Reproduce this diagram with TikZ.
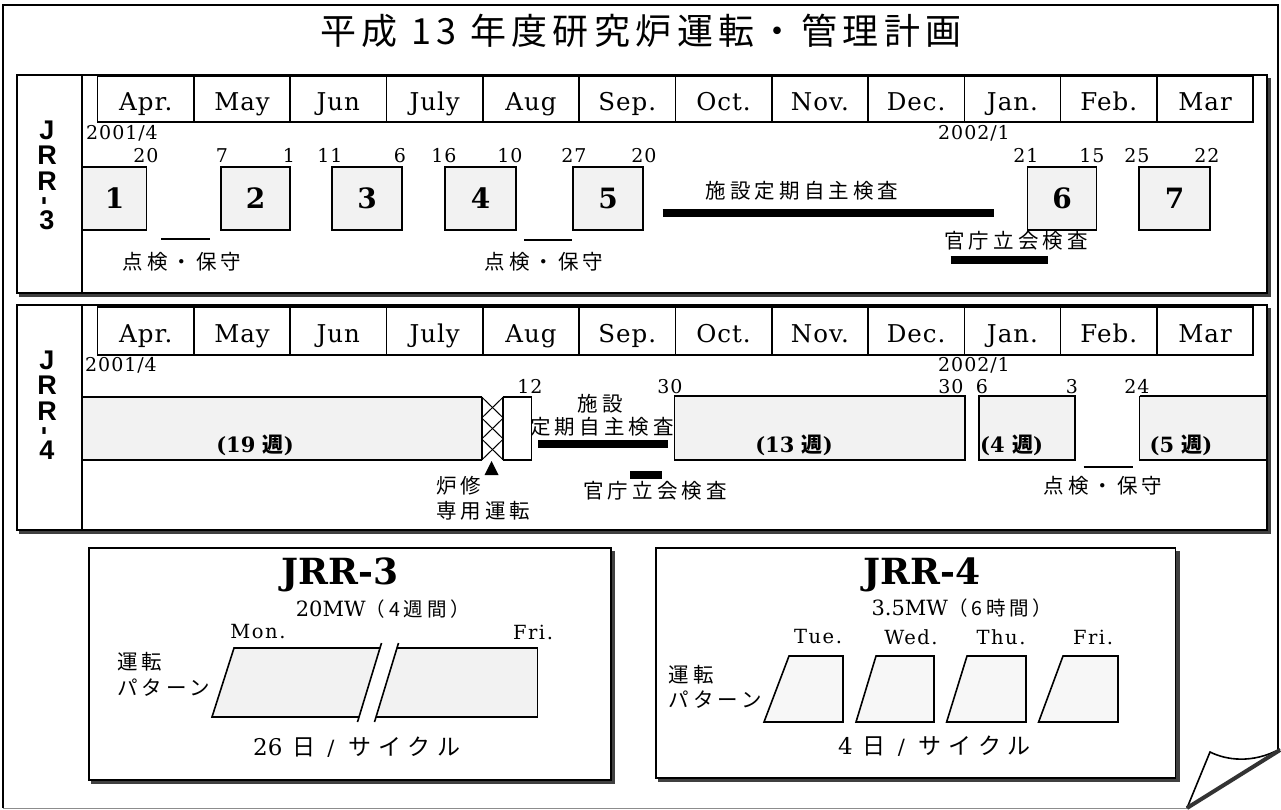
\documentclass[tikz,border=0pt]{standalone}
\usepackage{fontspec}
\setmainfont{DejaVu Serif}
\newfontfamily\jp{Noto Sans CJK JP}[LetterSpace=20]
\newfontfamily\jpt{Noto Sans CJK JP}[LetterSpace=15]
\newfontfamily\jpw{Noto Sans CJK JP}[LetterSpace=30]
\newfontfamily\hv{Liberation Sans}
\begin{document}
\begin{tikzpicture}[x=1pt,y=-1pt]
\tikzset{
  fr/.style={draw=black,line width=1.6pt},
  shd/.style={draw=black!75,line width=3.5pt},
  mon/.style={font=\fontsize{24.5}{24.5}\selectfont\addfontfeature{LetterSpace=4},anchor=base,inner sep=0pt},
  dnum/.style={font=\fontsize{19}{19}\selectfont\addfontfeature{LetterSpace=5},anchor=base,inner sep=0pt},
  cyc/.style={draw=black,line width=1.5pt,fill=black!5,inner sep=0pt,font=\bfseries\fontsize{28}{28}\selectfont},
  lab/.style={font=\jp\fontsize{20.5}{20.5}\selectfont,inner sep=0pt},
  rlab/.style={font=\hv\bfseries\fontsize{27}{27}\selectfont,inner sep=0pt},
  bar/.style={line width=8pt},
  mline/.style={line width=1.3pt},
  run/.style={draw=black,line width=1.5pt,fill=black!5},
  wk/.style={font=\bfseries\fontsize{21}{21}\selectfont,inner sep=0pt},
  big/.style={font=\bfseries\fontsize{36}{36}\selectfont,inner sep=0pt},
  mw/.style={font=\fontsize{21}{21}\selectfont,inner sep=0pt},
  dayw/.style={font=\fontsize{19.5}{19.5}\selectfont\addfontfeature{LetterSpace=8},inner sep=0pt},
}
\useasboundingbox (0,0) rectangle (1281,809);
\fill[white] (0,0) rectangle (1281,809);

% outer frame and page curl
\draw[fr] (3,808) -- (3,5) -- (1278,5) -- (1278,750);
\draw[draw=black!45,line width=1pt] (3,808) -- (1187,808);
\draw[line width=1.6pt] (1280,749) .. controls (1252,764) and (1226,760) .. (1210,752) -- (1187,808);
\draw[line width=4pt,draw=black!80] (1280,750) -- (1187,808);

% title
\node[font=\jpt\fontsize{36}{36}\selectfont] (title) at (641,31) {平成 13 年度研究炉運転・管理計画};

% ---------------- JRR-3 panel ----------------
\draw[shd] (19,295.5) -- (1269.5,295.5) -- (1269.5,78);
\draw[fr] (17,75) rectangle (1267,293);
\draw[fr] (82,75) -- (82,293);
\draw[fr] (97.6,76) rectangle (1253.2,122);
% ---------------- JRR-4 panel ----------------
\draw[shd] (19,532.5) -- (1269.5,532.5) -- (1269.5,308);
\draw[fr] (17,305) rectangle (1267,530);
\draw[fr] (82,305) -- (82,530);
\draw[fr] (97.6,307) rectangle (1253.2,355);
\foreach \i in {1,...,11}{
  \draw[fr] ({97.6+96.3*\i},76) -- ({97.6+96.3*\i},122);
  \draw[fr] ({97.6+96.3*\i},307) -- ({97.6+96.3*\i},355);
}
\foreach \m [count=\i from 0] in {Apr.,May,Jun,July,Aug,Sep.,Oct.,Nov.,Dec.,Jan.,Feb.,Mar}{
  \node[mon] (ma\i) at ({97.6+96.3*(\i+0.5)},110) {\m};
  \node[mon] (mb\i) at ({97.6+96.3*(\i+0.5)},342) {\m};
}

% reactor labels
\node[rlab] (a1) at (47,130) {J};
\node[rlab] (a2) at (47,155) {R};
\node[rlab] (a3) at (47,181) {R};
\node[rlab,rotate=90] (a4) at (47,201) {-};
\node[rlab] (a5) at (47,220) {3};
\node[rlab] (b1) at (47,360) {J};
\node[rlab] (b2) at (47,385) {R};
\node[rlab] (b3) at (47,411) {R};
\node[rlab,rotate=90] (b4) at (47,431) {-};
\node[rlab] (b5) at (47,450) {4};

% JRR-3 content
\node[dnum,anchor=base west] (y31) at (86,139) {2001/4};
\node[dnum] (y32) at (974,139) {2002/1};
\foreach \t/\x [count=\k] in {20/146,7/222,1/289,11/330,6/400,16/444,10/510,27/574,20/644,21/1026,15/1092,25/1137,22/1207}{
  \node[dnum] (d3\k) at (\x,162) {\t};
}
\node[cyc,minimum width=64pt,minimum height=63pt] (c1) at (114.7,198.5) {1};
\node[cyc,minimum width=69pt,minimum height=63pt] (c2) at (255.5,198.5) {2};
\node[cyc,minimum width=70pt,minimum height=63pt] (c3) at (367,198.5) {3};
\node[cyc,minimum width=71pt,minimum height=63pt] (c4) at (480.5,198.5) {4};
\node[cyc,minimum width=70pt,minimum height=63pt] (c5) at (608,198.5) {5};
\node[cyc,minimum width=69pt,minimum height=63pt] (c6) at (1062,198.5) {6};
\node[cyc,minimum width=71pt,minimum height=63pt] (c7) at (1174.5,198.5) {7};
\draw[mline] (161,239) -- (210,239);
\draw[mline] (524,240) -- (572,240);
\node[lab] (t31) at (182,262) {点検・保守};
\node[lab] (t32) at (544,262) {点検・保守};
\node[lab] (t33) at (802,191) {施設定期自主検査};
\draw[bar] (662.5,212.5) -- (993.6,212.5);
\node[lab] (t34) at (1016,241) {官庁立会検査};
\draw[bar] (950.7,260) -- (1048,260);

% JRR-4 content
\node[dnum,anchor=base west] (y41) at (85,371) {2001/4};
\node[dnum] (y42) at (974,371) {2002/1};
\foreach \t/\x [count=\k] in {12/530,30/670,30/951,6/982,3/1072,24/1137}{
  \node[dnum] (d4\k) at (\x,393) {\t};
}
\node[lab] (t41) at (600,404) {施設};
\node[lab] (t42) at (602,427) {定期自主検査};
\draw[run] (82,397) rectangle (481.7,460);
\draw[line width=1.5pt,fill=white] (503.3,397) rectangle (531.7,460);
\draw[line width=1pt] (481.7,397) -- (503.3,418) -- (481.7,439) -- (503.3,460)
                      (503.3,397) -- (481.7,418) -- (503.3,439) -- (481.7,460);
\draw[line width=2.2pt] (481.7,397) -- (481.7,460) (503.3,397) -- (503.3,460);
\node[wk] (w19) at (255,445) {(19 {\jp\bfseries 週})};
\fill (491.5,461) -- (498.5,475) -- (484.5,475) -- cycle;
\node[lab,anchor=west] (t43) at (436,486) {炉修};
\node[lab,anchor=west] (t44) at (436,511) {専用運転};
\draw[bar] (538,444) -- (668,444);
\draw[bar] (630,475) -- (662,475);
\node[lab] (t45) at (655,491) {官庁立会検査};
\draw[run] (674.7,396) rectangle (965,460);
\node[wk] (w13) at (794,445) {(13 {\jp\bfseries 週})};
\draw[run] (979,396) rectangle (1075,460);
\node[wk,anchor=west] (w4) at (980,445) {(4 {\jp\bfseries 週})};
\draw[run] (1139.6,396) -- (1267,396) (1139.6,396) -- (1139.6,460) -- (1267,460);
\fill[black!5] (1140.5,397) rectangle (1266,459);
\node[wk] (w5) at (1181,445) {(5 {\jp\bfseries 週})};
\draw[mline] (1083.6,467) -- (1132.6,467);
\node[lab] (t46) at (1103,486) {点検・保守};

% ---------------- bottom-left box ----------------
\draw[shd] (91,782.5) -- (613.5,782.5) -- (613.5,551);
\draw[fr] (88.7,548) rectangle (611,780);
\node[big] (n3) at (340,575) {JRR-3};
\node[mw] (p3) at (383,609) {20MW{\jp\fontsize{19.5}{19.5}\selectfont （4週間）}};
\node[dayw] (mon) at (258,632) {Mon.};
\node[dayw] (fri3) at (533,632) {Fri.};
\node[lab,anchor=west] (u31) at (117,662) {運転};
\node[lab,anchor=west] (u32) at (117,688) {パターン};
\fill[black!5] (234,648) -- (380,648) -- (359,717) -- (212,717) -- cycle;
\fill[black!5] (397,648) -- (537.6,648) -- (537.6,717) -- (376,717) -- cycle;
\draw[line width=1.6pt] (380,648) -- (234,648) -- (212,717) -- (359,717);
\draw[line width=1.6pt] (397,648) -- (537.6,648) -- (537.6,717) -- (376,717);
\draw[line width=1.6pt] (381.5,643) -- (357.5,722);
\draw[line width=1.6pt] (398.5,643) -- (374.5,722);
\node[inner sep=0pt,anchor=west] (cy3) at (253,747) {{\fontsize{23}{23}\selectfont 26}\hspace{10pt}{\jpw\fontsize{23}{23}\selectfont 日}\hspace{12pt}{\fontsize{21}{21}\selectfont /}\hspace{14pt}{\jpw\fontsize{23}{23}\selectfont サイクル}};

% ---------------- bottom-right box ----------------
\draw[shd] (658,780.5) -- (1178,780.5) -- (1178,551);
\draw[fr] (656,548) rectangle (1175.6,778);
\node[big] (n4) at (922,575) {JRR-4};
\node[mw] (p4) at (962,608) {3.5MW{\jp\fontsize{19.5}{19.5}\selectfont （6時間）}};
\node[dayw] (tue) at (818,637) {Tue.};
\node[dayw] (wed) at (911,637) {Wed.};
\node[dayw] (thu) at (1001,637) {Thu.};
\node[dayw] (fri4) at (1093,637) {Fri.};
\node[lab,anchor=west] (u41) at (668.6,675) {運転};
\node[lab,anchor=west] (u42) at (668.6,700) {パターン};
\foreach \a/\b/\c [count=\k] in {789/843/764,876/934/856,967/1026/946.6,1063/1118/1038.6}{
  \draw[line width=1.6pt,fill=black!3] (\a,656) -- (\b,656) -- (\b,722) -- (\c,722) -- cycle;
}
\node[inner sep=0pt,anchor=west] (cy4) at (838,746) {{\fontsize{23}{23}\selectfont 4}\hspace{10pt}{\jpw\fontsize{23}{23}\selectfont 日}\hspace{12pt}{\fontsize{21}{21}\selectfont /}\hspace{14pt}{\jpw\fontsize{23}{23}\selectfont サイクル}};
\end{tikzpicture}
\end{document}
